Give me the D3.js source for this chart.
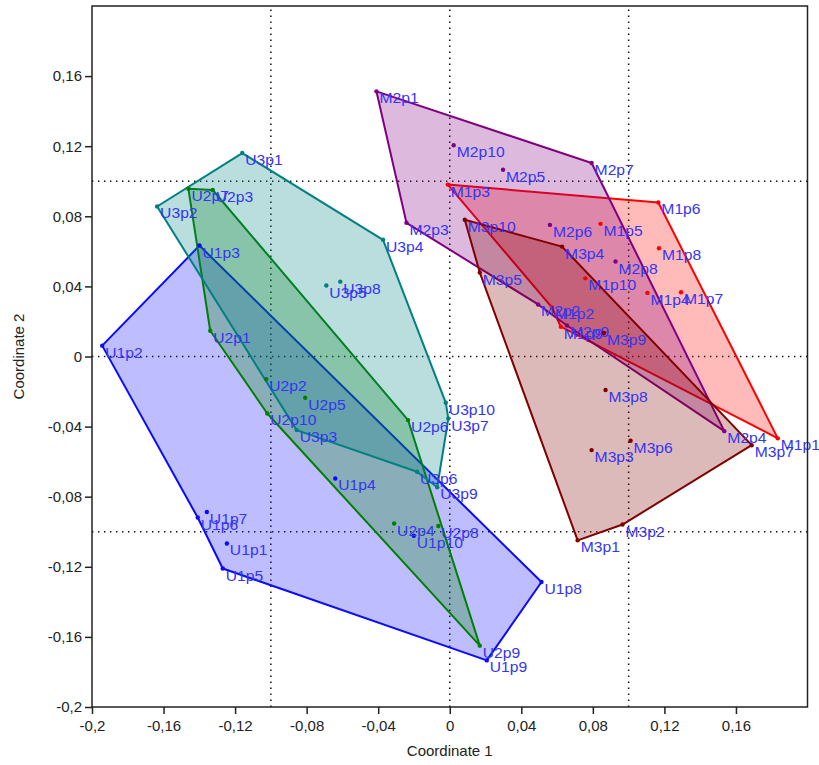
<!DOCTYPE html>
<meta charset="utf-8">
<head>
    <title>Coordinate plot</title>
    <script src="https://cdn.jsdelivr.net/npm/d3@7"></script>
    <style>
        body { margin: 0; background: white; }
        text { font-family: "Liberation Sans", Arial, sans-serif; }
    </style>
</head>
<body>
<script>

// points p1..p10 for each group, [coordinate 1, coordinate 2]
var U1 = [[-0.1246,-0.1067],[-0.1943,0.0062],[-0.1399,0.0633],[-0.0640,-0.0696],[-0.1269,-0.1210],
          [-0.1409,-0.0919],[-0.1358,-0.0887],[0.0513,-0.1287],[0.0207,-0.1734],[-0.0201,-0.1023]]
var U2 = [[-0.1339,0.0147],[-0.1026,-0.0129],[-0.1325,0.0950],[-0.0311,-0.0953],[-0.0808,-0.0235],
          [-0.0233,-0.0363],[-0.1461,0.0957],[-0.0064,-0.0967],[0.0168,-0.1650],[-0.1020,-0.0325]]
var U3 = [[-0.1160,0.1161],[-0.1636,0.0856],[-0.0856,-0.0420],[-0.0373,0.0666],[-0.0690,0.0405],
          [-0.0183,-0.0658],[-0.0008,-0.0354],[-0.0612,0.0427],[-0.0070,-0.0746],[-0.0022,-0.0264]]
var M1 = [[0.1834,-0.0467],[0.0571,0.0280],[-0.0011,0.0981],[0.1105,0.0363],[0.0843,0.0757],
          [0.1166,0.0879],[0.1293,0.0367],[0.1170,0.0618],[0.0621,0.0170],[0.0758,0.0446]]
var M2 = [[-0.0410,0.1513],[0.0494,0.0297],[-0.0242,0.0763],[0.1535,-0.0426],[0.0298,0.1066],
          [0.0560,0.0751],[0.0793,0.1104],[0.0927,0.0542],[0.0655,0.0177],[0.0022,0.1205]]
var M3 = [[0.0715,-0.1049],[0.0966,-0.0959],[0.0793,-0.0534],[0.0628,0.0627],[0.0168,0.0479],
          [0.1011,-0.0481],[0.1688,-0.0506],[0.0871,-0.0191],[0.0862,0.0134],[0.0084,0.0780]]

// outline order (point numbers)
var hullU1 = [2,3,8,9,5,6]
var hullU2 = [7,3,6,9,10,1]
var hullU3 = [1,4,10,7,9,6,3,2]
var hullM1 = [3,6,1,9,2]
var hullM2 = [1,7,4,9,2,3]
var hullM3 = [10,4,7,2,1,5]

var groupNames = ["U1","U2","U3","M1","M2","M3"]
var groupColors = ["#0a0aff","#008000","#008080","#ff0000","#800080","#800000"]

var xTicks = [-0.2,-0.16,-0.12,-0.08,-0.04,0,0.04,0.08,0.12,0.16]
var yTicks = [-0.2,-0.16,-0.12,-0.08,-0.04,0,0.04,0.08,0.12,0.16]
var refLines = [-0.1,0,0.1]

var groups = [U1,U2,U3,M1,M2,M3]
var hulls = [hullU1,hullU2,hullU3,hullM1,hullM2,hullM3]

// svg
var w = 819
var h = 765
var margin = {left: 92, top: 6, right: 11.5, bottom: 58}

var svg = d3.select("body").append("svg").attr("width", w).attr("height", h)

var x = d3.scaleLinear().domain([-0.2, 0.2]).range([margin.left, w - margin.right])
var y = d3.scaleLinear().domain([-0.2, 0.2]).range([h - margin.bottom, margin.top])

var fmt = function(v) { return v === 0 ? "0" : String(+v.toFixed(2)).replace(".", ",") }

// dotted reference lines
svg.append("g").selectAll("line").data(refLines).enter().append("line")
    .attr("x1", x(-0.2)).attr("x2", x(0.2))
    .attr("y1", function(d) {return y(d)}).attr("y2", function(d) {return y(d)})
    .style("stroke", "#111").style("stroke-width", 1.5).style("stroke-dasharray", "1.4,4.6")
svg.append("g").selectAll("line").data(refLines).enter().append("line")
    .attr("y1", y(-0.2)).attr("y2", y(0.2))
    .attr("x1", function(d) {return x(d)}).attr("x2", function(d) {return x(d)})
    .style("stroke", "#111").style("stroke-width", 1.5).style("stroke-dasharray", "1.4,4.6")

// hulls
groups.forEach(function(pts, gi) {
    var poly = hulls[gi].map(function(n) {return [x(pts[n-1][0]), y(pts[n-1][1])]})
    svg.append("path")
        .attr("d", "M" + poly.join("L") + "Z")
        .style("fill", groupColors[gi])
        .style("fill-opacity", 0.27)
        .style("stroke", groupColors[gi])
        .style("stroke-width", 2)
        .style("stroke-linejoin", "round")
})

// points and labels
groups.forEach(function(pts, gi) {
    var g = svg.append("g")
    g.selectAll("circle").data(pts).enter().append("circle")
        .attr("cx", function(d) {return x(d[0])})
        .attr("cy", function(d) {return y(d[1])})
        .attr("r", 2.2)
        .style("fill", groupColors[gi])
    g.selectAll("text").data(pts).enter().append("text")
        .attr("transform", function(d) {return "translate(" + (x(d[0]) + 3) + "," + (y(d[1]) + 12) + ") scale(1.12,1)"})
        .style("font-size", "14px")
        .style("fill", "#3535f2")
        .text(function(d, i) {return groupNames[gi] + "p" + (i + 1)})
})

// frame
svg.append("rect")
    .attr("x", x(-0.2)).attr("y", y(0.2))
    .attr("width", x(0.2) - x(-0.2)).attr("height", y(-0.2) - y(0.2))
    .style("fill", "none").style("stroke", "#222").style("stroke-width", 1.5)

// axes
var xAxis = svg.append("g")
    .attr("transform", "translate(0," + y(-0.2) + ")")
    .call(d3.axisBottom(x).tickValues(xTicks).tickSize(7).tickSizeOuter(0).tickFormat(fmt))
var yAxis = svg.append("g")
    .attr("transform", "translate(" + x(-0.2) + ",0)")
    .call(d3.axisLeft(y).tickValues(yTicks).tickSize(7).tickSizeOuter(0).tickFormat(fmt))
svg.selectAll(".domain").remove()
svg.selectAll(".tick line").style("stroke", "#222").style("stroke-width", 1.5)
svg.selectAll(".tick text")
    .style("font-size", "15px")
    .style("font-family", "'Liberation Sans', Arial, sans-serif")
    .style("fill", "#222")
xAxis.selectAll(".tick text").attr("dy", "0.9em")

svg.append("text")
    .attr("x", x(0))
    .attr("y", 756)
    .attr("text-anchor", "middle")
    .style("font-size", "15px")
    .style("fill", "#222")
    .text("Coordinate 1")
svg.append("text")
    .attr("transform", "translate(24," + y(0) + ") rotate(-90)")
    .attr("text-anchor", "middle")
    .style("font-size", "15px")
    .style("fill", "#222")
    .text("Coordinate 2")

</script>
</body>
</html>
